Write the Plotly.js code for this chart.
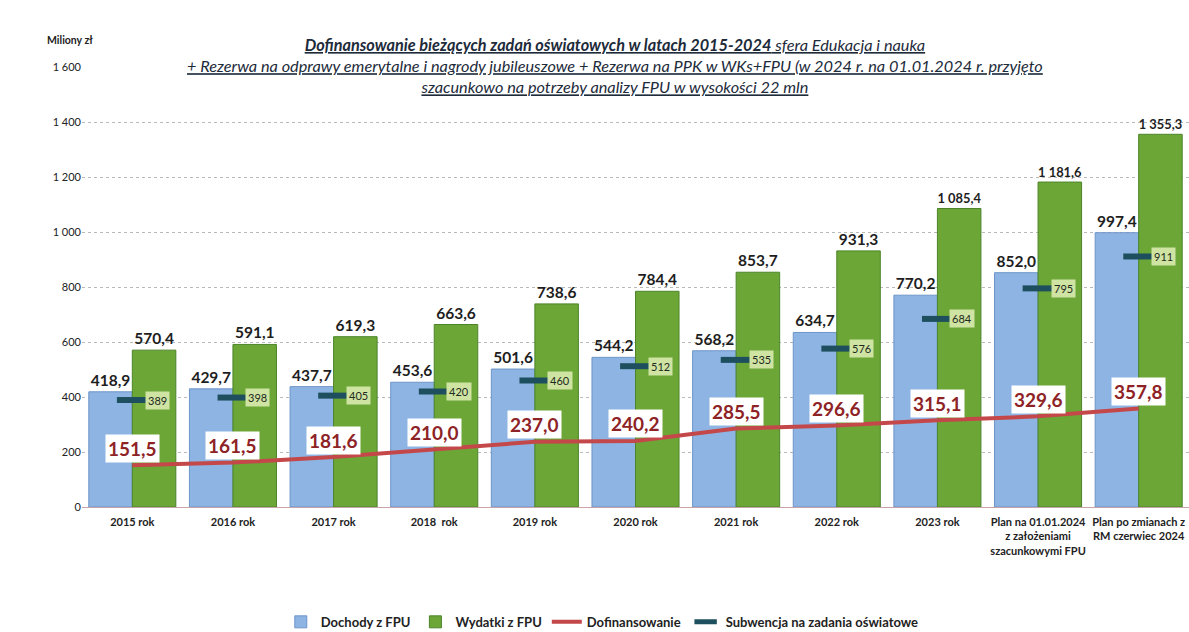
<!DOCTYPE html>
<html>
<head>
<meta charset="utf-8">
<script src="https://cdn.plot.ly/plotly-3.0.1.min.js"></script>
<style>html,body{margin:0;padding:0;background:#fff;}#chart{width:1189px;height:632px;}</style>
</head>
<body>
<div id="chart"></div>
<script>
var categories = [
  '2015 rok', '2016 rok', '2017 rok', '2018  rok', '2019 rok', '2020 rok',
  '2021 rok', '2022 rok', '2023 rok',
  'Plan na 01.01.2024<br>z założeniami<br>szacunkowymi FPU',
  'Plan po zmianach z<br>RM czerwiec 2024'
];
var dochody = [418.9, 429.7, 437.7, 453.6, 501.6, 544.2, 568.2, 634.7, 770.2, 852.0, 997.4];
var wydatki = [570.4, 591.1, 619.3, 663.6, 738.6, 784.4, 853.7, 931.3, 1085.4, 1181.6, 1355.3];
var dofinansowanie = [151.5, 161.5, 181.6, 210.0, 237.0, 240.2, 285.5, 296.6, 315.1, 329.6, 357.8];
var subwencja = [389, 398, 405, 420, 460, 512, 535, 576, 684, 795, 911];
var yTicks = [0, 200, 400, 600, 800, 1000, 1200, 1400, 1600];

var FONT = 'Lato, "Open Sans", sans-serif';

function fmt1(v) {
  var s = v.toFixed(1).replace('.', ',');
  var parts = s.split(',');
  parts[0] = parts[0].replace(/\B(?=(\d{3})+(?!\d))/g, ' ');
  return parts.join(',');
}

var traces = [
  {
    type: 'bar', name: 'Dochody z FPU', x: categories, y: dochody,
    marker: {color: '#8db4e3', line: {color: '#6d95c8', width: 1}},
    text: dochody.map(fmt1), textposition: 'outside', cliponaxis: false,
    textfont: {family: FONT, size: 15.5, color: '#1e1e1e', weight: 'bold'},
    hoverinfo: 'skip'
  },
  {
    type: 'bar', name: 'Wydatki z FPU', x: categories, y: wydatki,
    marker: {color: '#6ba636', line: {color: '#4c8529', width: 1}},
    text: wydatki.map(fmt1), textposition: 'outside', cliponaxis: false,
    textfont: {family: FONT, size: 15.5, color: '#1e1e1e', weight: 'bold'},
    hoverinfo: 'skip'
  },
  {
    type: 'scatter', mode: 'lines', name: 'Dofinansowanie', x: categories, y: dofinansowanie,
    line: {color: '#c4484a', width: 4}, cliponaxis: false, hoverinfo: 'skip'
  },
  {
    type: 'scatter', mode: 'markers', name: 'Subwencja na zadania oświatowe', x: categories, y: subwencja,
    marker: {symbol: 'line-ew', size: 22, line: {color: '#1d4f5e', width: 6}, color: '#1d4f5e'},
    cliponaxis: false, hoverinfo: 'skip'
  }
];

var annotations = [];
categories.forEach(function (c, i) {
  annotations.push({
    x: c, y: dofinansowanie[i], xref: 'x', yref: 'y', yshift: 17,
    text: '<b>' + fmt1(dofinansowanie[i]) + '</b>', showarrow: false,
    bgcolor: '#ffffff', borderpad: 2,
    font: {family: FONT, size: 19, color: '#8e2326'}
  });
  annotations.push({
    x: c, y: subwencja[i], xref: 'x', yref: 'y', xshift: 25,
    text: String(subwencja[i]), showarrow: false,
    bgcolor: '#cfe3a3', borderpad: 2,
    font: {family: FONT, size: 11, color: '#1e2a20'}
  });
});

annotations.push({
  xref: 'paper', yref: 'paper', x: 0.4815, y: 1.003, yanchor: 'middle', xanchor: 'center',
  showarrow: false, bgcolor: '#ffffff', align: 'center',
  text: '<u><b><i>Dofinansowanie bieżących zadań oświatowych w latach 2015-2024</i></b><i> sfera Edukacja i nauka</i></u><br>' +
        '<u><i>+ Rezerwa na odprawy emerytalne i nagrody jubileuszowe + Rezerwa na PPK w WKs+FPU (w 2024 r. na 01.01.2024 r. przyjęto</i></u><br>' +
        '<u><i>szacunkowo na potrzeby analizy FPU w wysokości 22 mln</i></u>',
  font: {family: FONT, size: 16.3, color: '#1d2b3a'}
});
annotations.push({
  xref: 'paper', yref: 'paper', x: -0.011, y: 1.061, xanchor: 'center', yanchor: 'middle',
  showarrow: false, text: '<b>Miliony zł</b>',
  font: {family: FONT, size: 10.5, color: '#222'}
});

var layout = {
  width: 1189, height: 632,
  margin: {l: 82, r: 0, t: 67, b: 125},
  paper_bgcolor: '#ffffff', plot_bgcolor: '#ffffff',
  separators: ', ',
  barmode: 'group', bargap: 0.135, bargroupgap: 0,
  showlegend: true,
  legend: {
    orientation: 'h', xref: 'paper', x: 0.47, xanchor: 'center',
    yref: 'container', y: 0.016, yanchor: 'middle',
    font: {family: FONT, size: 13, color: '#222', weight: 'bold'},
    itemwidth: 30, traceorder: 'normal'
  },
  xaxis: {
    type: 'category', range: [-0.5, 10.5], showgrid: false, zeroline: false,
    showline: false, ticks: '', tickangle: 0, ticklabelstandoff: 7, automargin: false,
    tickfont: {family: FONT, size: 11, color: '#222', weight: 'bold'}
  },
  yaxis: {
    range: [0, 1600], tickvals: yTicks, tickformat: ',', showgrid: true, automargin: false,
    gridcolor: '#b9b9b9', griddash: 'dot', gridwidth: 1,
    zeroline: true, zerolinecolor: '#c9a3a8', zerolinewidth: 1,
    showline: false, ticks: '',
    tickfont: {family: FONT, size: 11, color: '#222'}
  },
  annotations: annotations,
  font: {family: FONT}
};

Plotly.newPlot('chart', traces, layout, {displayModeBar: false, staticPlot: true});
</script>
</body>
</html>
